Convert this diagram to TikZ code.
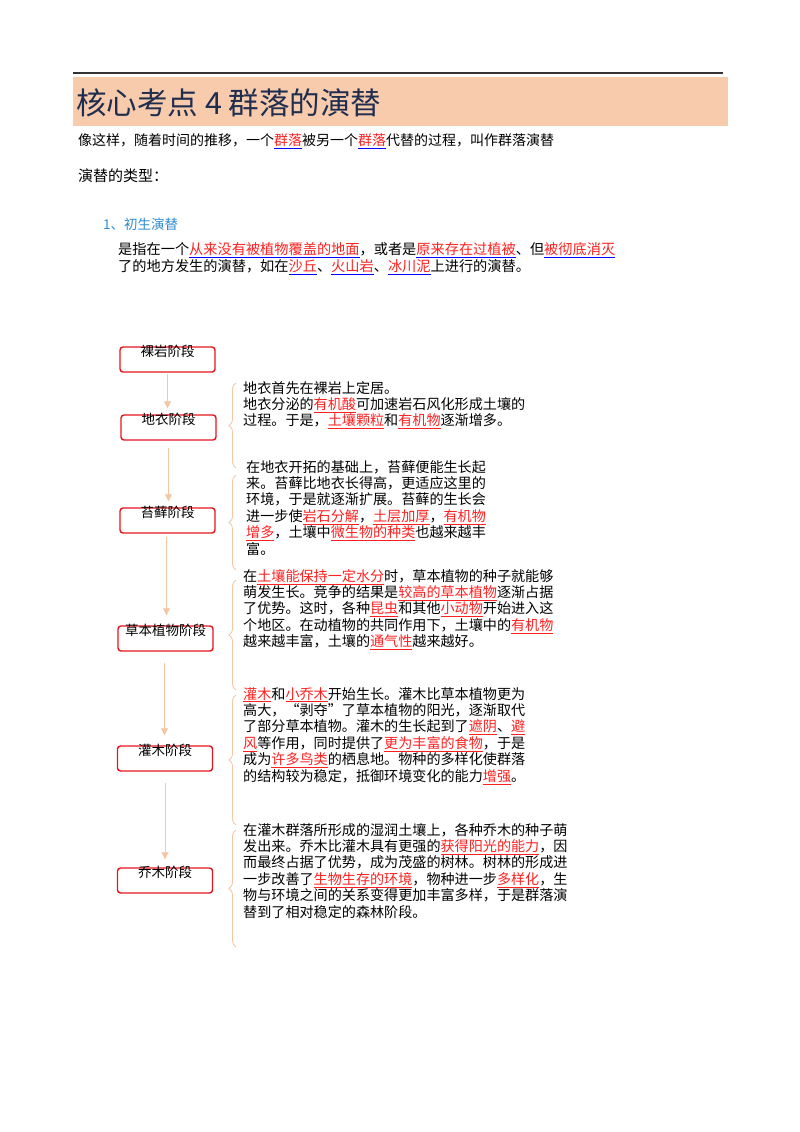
\documentclass[tikz,border=0pt]{standalone}
\usepackage{fontspec}
\setmainfont{Noto Sans CJK SC}
\usetikzlibrary{positioning, calc, arrows.meta, decorations.pathreplacing}
\definecolor{peach}{HTML}{F7CBAC}
\definecolor{navy}{HTML}{1F2D4E}
\definecolor{stemblue}{HTML}{2E8BD0}
\definecolor{linkred}{HTML}{FF2020}
\definecolor{boxred}{HTML}{E8141E}
\definecolor{flow}{HTML}{F5C6A5}
\newcommand{\hl}[1]{\textcolor{linkred}{\underline{#1}}}
\newcommand{\bhl}[1]{\ensuremath{\color{blue}\underline{\hbox{\color{linkred}#1}}}}
\tikzset{
  stagebox/.style = {draw = boxred, line width=0.5mm, rounded corners=3pt, minimum width=95pt, minimum height=25pt},
  stagelab/.style = {font = \fontsize{13.5}{13.5}\selectfont, inner sep=0pt},
  flowarr/.style = {draw = flow, line width=0.3mm, -{Triangle[length=7pt,width=7pt]}, shorten >=6pt, shorten <=1pt},
  bracket/.style = {draw = flow, line width=0.3mm, decorate, decoration={brace, amplitude=7pt}},
  para/.style = {anchor = north west, inner sep=0pt, align = left, font = \fontsize{14.1}{16.4}\selectfont},
}
\begin{document}
\begin{tikzpicture}[x=1pt, y=-1pt]
		\useasboundingbox (0,0) rectangle (800,1132);
		% heading
		\draw[line width=0.5mm, color = black!80] (73,73) -- (723,73);
		\fill[peach] (73,77) rectangle (728,126);
		\node[anchor = west, color = navy, font = \fontsize{30.5}{30.5}\selectfont, inner sep=0pt] (title) at (76,103) {核心考点 4 群落的演替};
		\node[anchor = west, inner sep=0pt, font = \fontsize{14}{14}\selectfont] (intro) at (78,141) {像这样，随着时间的推移，一个\bhl{群落}被另一个\bhl{群落}代替的过程，叫作群落演替};
		\node[anchor = west, inner sep=0pt, font = \fontsize{15}{15}\selectfont] (types) at (78,176) {演替的类型：};
		\node[anchor = west, inner sep=0pt, color = stemblue, font = \fontsize{13.5}{13.5}\selectfont] (kind) at (103,224) {1、初生演替};
		\node[para, font = \fontsize{14.2}{17}\selectfont] (def) at (118,242) {是指在一个\bhl{从来没有被植物覆盖的地面}，或者是\bhl{原来存在过植被}、但\bhl{被彻底消灭}\\了的地方发生的演替，如在\bhl{沙丘}、\bhl{火山岩}、\bhl{冰川泥}上进行的演替。};
		% stages
		\node[stagebox] (b1) at (167.5,359.5) {};
		\node[stagebox] (b2) at (168.5,427.5) {};
		\node[stagebox] (b3) at (167.5,520.5) {};
		\node[stagebox] (b4) at (165.5,638.5) {};
		\node[stagebox] (b5) at (165,758.5) {};
		\node[stagebox] (b6) at (165,880.5) {};
		\node[stagelab] (l1) at ($(b1.north)+(0,5)$) {裸岩阶段};
		\node[stagelab] (l2) at ($(b2.north)+(0,5)$) {地衣阶段};
		\node[stagelab] (l3) at ($(b3.north)+(0,5)$) {苔藓阶段};
		\node[stagelab] (l4) at ($(b4.north)+(0,5)$) {草本植物阶段};
		\node[stagelab] (l5) at ($(b5.north)+(0,5)$) {灌木阶段};
		\node[stagelab] (l6) at ($(b6.north)+(0,5)$) {乔木阶段};
		\draw[flowarr] (b1.south) -- (b1.south |- b2.north);
		\draw[flowarr] ($(b2.south)+(0,6)$) -- (b2.south |- b3.north);
		\draw[flowarr] ($(b3.south)+(-1,2)$) -- ($(b3.south |- b4.north)+(-1,-4)$);
		\draw[flowarr] ($(b4.south)+(-1,10)$) -- ($(b4.south |- b5.north)+(-1,-4)$);
		\draw[flowarr] ($(b5.south)+(0,10)$) -- ($(b5.south |- b6.north)+(0,-2)$);
		% braces
		\draw[bracket] (236,468) -- (236,383);
		\draw[bracket] (236,570) -- (236,475);
		\draw[bracket] (236,690) -- (236,580);
		\draw[bracket] (236,825) -- (236,695);
		\draw[bracket] (236,947) -- (236,830);
		% descriptions
		\node[para] (t1) at (243,381) {地衣首先在裸岩上定居。\\地衣分泌的\hl{有机酸}可加速岩石风化形成土壤的\\过程。于是，\hl{土壤颗粒}和\hl{有机物}逐渐增多。};
		\node[para] (t2) at (246,460) {在地衣开拓的基础上，苔藓便能生长起\\来。苔藓比地衣长得高，更适应这里的\\环境，于是就逐渐扩展。苔藓的生长会\\进一步使\hl{岩石分解}，\hl{土层加厚}，\hl{有机物}\\\hl{增多}，土壤中\hl{微生物的种类}也越来越丰\\富。};
		\node[para] (t3) at (243,569) {在\hl{土壤能保持一定水分}时，草本植物的种子就能够\\萌发生长。竞争的结果是\hl{较高的草本植物}逐渐占据\\了优势。这时，各种\hl{昆虫}和其他\hl{小动物}开始进入这\\个地区。在动植物的共同作用下，土壤中的\hl{有机物}\\越来越丰富，土壤的\hl{通气性}越来越好。};
		\node[para] (t4) at (243,687) {\hl{灌木}和\hl{小乔木}开始生长。灌木比草本植物更为\\高大，“剥夺”了草本植物的阳光，逐渐取代\\了部分草本植物。灌木的生长起到了\hl{遮阴}、\hl{避}\\\hl{风}等作用，同时提供了\hl{更为丰富的食物}，于是\\成为\hl{许多鸟类}的栖息地。物种的多样化使群落\\的结构较为稳定，抵御环境变化的能力\hl{增强}。};
		\node[para] (t5) at (243,823) {在灌木群落所形成的湿润土壤上，各种乔木的种子萌\\发出来。乔木比灌木具有更强的\hl{获得阳光的能力}，因\\而最终占据了优势，成为茂盛的树林。树林的形成进\\一步改善了\hl{生物生存的环境}，物种进一步\hl{多样化}，生\\物与环境之间的关系变得更加丰富多样，于是群落演\\替到了相对稳定的森林阶段。};
	\end{tikzpicture}
\end{document}
